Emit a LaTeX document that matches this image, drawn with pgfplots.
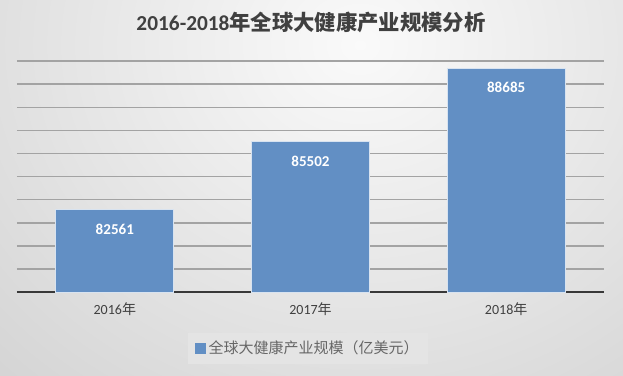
\documentclass[border=0pt]{standalone}
\usepackage{pgfplots}
\pgfplotsset{compat=1.18}
\usepackage{fontspec}
\setmainfont{Carlito}
\newfontfamily\cjk{Noto Sans CJK SC}
\definecolor{barblue}{RGB}{98,143,196}
\definecolor{txt}{RGB}{64,64,64}
\definecolor{legbg}{RGB}{228,228,228}
\begin{document}
\begin{tikzpicture}[x=0.75pt,y=0.75pt]
\useasboundingbox (0,0) rectangle (623,375);
\fill[black!25] (0,0) rectangle (623,375);
\begin{scope}
\clip (0,0) rectangle (623,375);
\shade[inner color=black!2, outer color=black!25] (360,330) ellipse (820 and 720);
\end{scope}
\node[font=\fontsize{16}{19}\selectfont\bfseries, text=txt] at (311,352.5) {2016-2018{\cjk 年全球大健康产业规模分析}};
\begin{axis}[
  at={(12.75pt,62.03pt)}, anchor=south west,
  scale only axis, width=440.25pt, height=173.5pt,
  ybar, bar width=88.5pt,
  xmin=-0.5, xmax=2.5, ymin=79000, ymax=89000,
  xtick=data, xticklabels={2016{\cjk 年},2017{\cjk 年},2018{\cjk 年}},
  ytick={79000,80000,...,89000}, yticklabels={}, scaled y ticks=false,
  ymajorgrids, grid style={draw=black!36, line width=1pt},
  axis y line*=left, y axis line style={draw=none},
  axis x line*=bottom,
  x axis line style={-, draw=black!78, line width=1.6pt},
  major tick length=0pt,
  tick label style={font=\fontsize{10.5}{12}\selectfont, text=txt},
  xticklabel style={yshift=-4.5pt},
  point meta=explicit symbolic,
  nodes near coords,
  nodes near coords style={font=\bfseries\fontsize{11.3}{13}\selectfont, text=white, anchor=center, yshift=-14.25pt},
  legend style={at={(0.496,-0.243)}, anchor=center, draw=none, fill=legbg,
    font=\cjk\fontsize{11.25}{13}\selectfont, text=black!60, inner xsep=5pt, inner ysep=4pt},
]
\addplot[fill=barblue, draw=white!75!barblue, line width=0.75pt,
  legend image code/.code={\fill[barblue] (0pt,-3.75pt) rectangle (7.5pt,3.75pt);}]
  coordinates {(0,82561) [82561] (1,85502) [85502] (2,88685) [88685]};
\addlegendentry{全球大健康产业规模（亿美元）}
\end{axis}
\end{tikzpicture}
\end{document}
